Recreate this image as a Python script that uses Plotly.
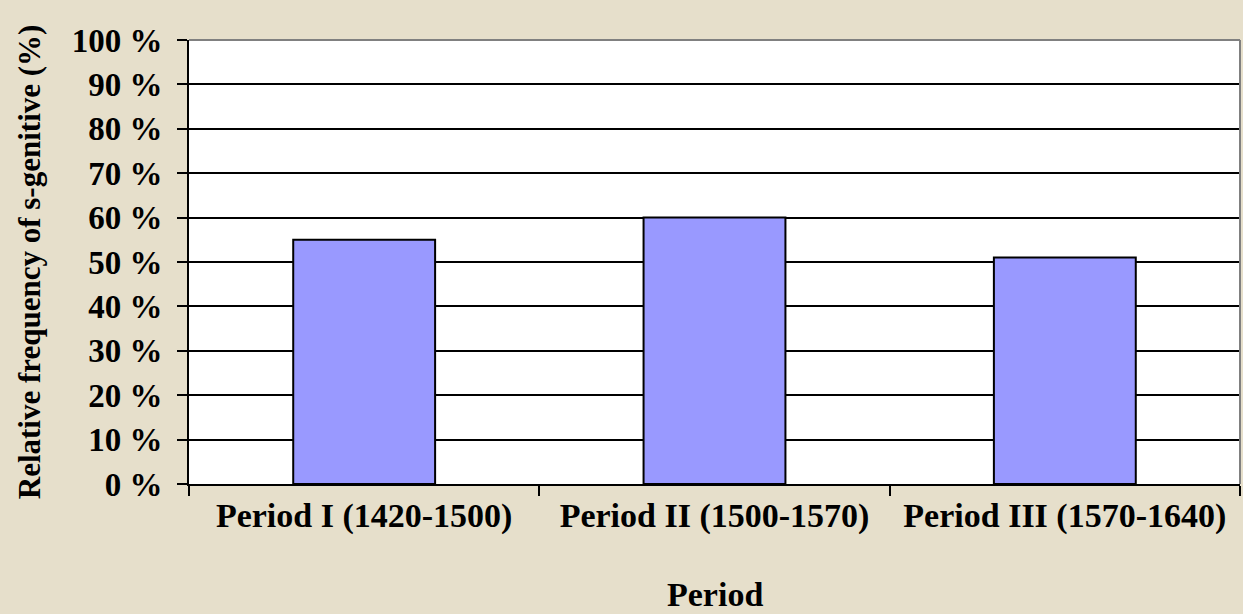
import plotly.graph_objects as go

categories = ["Period I (1420-1500)", "Period II (1500-1570)", "Period III (1570-1640)"]
values = [55, 60, 51]
y_ticks = [0, 10, 20, 30, 40, 50, 60, 70, 80, 90, 100]
y_tick_labels = [f"{v} %" for v in y_ticks]

FONT = "Liberation Serif"

fig = go.Figure()
fig.add_trace(go.Bar(
    x=categories, y=values,
    marker=dict(color="#9999FF", line=dict(color="black", width=2)),
    width=0.405,
))

fig.update_layout(
    width=1243, height=614,
    margin=dict(l=189, r=3, t=40, b=130, autoexpand=False),
    paper_bgcolor="#E6DFCB",
    plot_bgcolor="white",
    font=dict(family=FONT, color="black"),
    showlegend=False,
    xaxis=dict(
        type="category", automargin=False,
        showline=True, linecolor="black", linewidth=2,
        ticks="outside", ticklen=10, tickwidth=2, tickcolor="black",
        tickson="boundaries",
        showgrid=False,
        tickfont=dict(family=FONT, size=34, color="black", weight="bold"),
    ),
    yaxis=dict(
        range=[0, 100], automargin=False,
        tickvals=y_ticks, ticktext=[f"<b>{t}</b>" for t in y_tick_labels],
        showline=True, linecolor="black", linewidth=2,
        ticks="outside", ticklen=10, tickwidth=2, tickcolor="black",
        ticklabelstandoff=8,
        showgrid=True, gridcolor="black", gridwidth=2,
        zeroline=False,
        tickfont=dict(family=FONT, size=33, color="black"),
    ),
    annotations=[
        dict(text="<b>Relative frequency of s-genitive (%)</b>", xref="paper", yref="paper",
             x=-0.152, y=0.5, xanchor="center", yanchor="middle", textangle=-90,
             showarrow=False, font=dict(family=FONT, size=31, color="black")),
        dict(text="<b>Period</b>", xref="paper", yref="paper",
             x=0.5, y=-0.249, xanchor="center", yanchor="middle",
             showarrow=False, font=dict(family=FONT, size=34, color="black")),
    ],
)

# gray border on top and right of plot area
fig.add_shape(type="line", xref="paper", yref="paper", x0=0, x1=1, y0=1, y1=1,
              line=dict(color="#808080", width=2))
fig.add_shape(type="line", xref="paper", yref="paper", x0=1, x1=1, y0=0, y1=1,
              line=dict(color="#808080", width=2))

fig.write_html("out.html", config={"displayModeBar": False},
               post_script="document.body.style.margin='0';")
